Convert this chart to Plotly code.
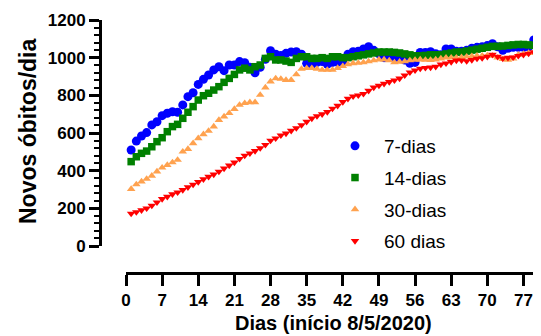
import plotly.graph_objects as go

days = list(range(1, 81))

dias7 = [510, 557, 584, 602, 643, 660, 692, 705, 713, 710,
         749, 793, 814, 858, 885, 908, 935, 952, 931, 961,
         961, 979, 973, 949, 920, 949, 991, 1037, 1018, 1011,
         1023, 1030, 1032, 1018, 970, 965, 975, 979, 965, 975,
         975, 978, 1018, 1032, 1034, 1046, 1058, 1039, 1021, 1000,
         1005, 1005, 996, 987, 970, 975, 1028, 1028, 1032, 1021,
         1016, 1046, 1046, 1034, 1034, 1039, 1050, 1055, 1058, 1064,
         1074, 1058, 1039, 1050, 1055, 1055, 1055, 1058, 1094, 1080]

dias14 = [448, 474, 492, 504, 527, 554, 575, 607, 634, 646,
          678, 710, 740, 775, 798, 811, 828, 846, 869, 890,
          911, 935, 944, 935, 952, 961, 996, 1005, 988, 988,
          982, 975, 996, 1005, 1005, 996, 996, 1000, 996, 1005,
          1005, 1000, 1000, 1005, 1010, 1015, 1020, 1025, 1030, 1030,
          1030, 1028, 1025, 1020, 1015, 1010, 1010, 1012, 1015, 1015,
          1015, 1020, 1025, 1030, 1030, 1035, 1040, 1045, 1050, 1055,
          1060, 1060, 1062, 1065, 1068, 1070, 1070, 1068, 1065, 1060]

dias30 = [302, 327, 342, 356, 373, 395, 416, 430, 444, 457,
          501, 515, 545, 572, 593, 611, 634, 669, 687, 705,
          727, 749, 758, 763, 763, 802, 841, 873, 890, 887,
          881, 881, 911, 940, 944, 944, 940, 935, 935, 935,
          945, 955, 965, 970, 972, 975, 980, 985, 990, 990,
          985, 975, 978, 980, 985, 988, 990, 988, 987, 990,
          995, 1000, 1000, 1000, 1002, 1005, 1008, 1010, 1010, 1012,
          1010, 1000, 992, 988, 995, 1015, 1020, 1025, 1025, 1025]

dias60 = [172, 180, 190, 200, 215, 232, 250, 262, 275, 285,
          298, 312, 326, 340, 355, 368, 380, 395, 412, 428,
          444, 463, 480, 492, 505, 520, 537, 560, 572, 588,
          598, 612, 626, 642, 660, 677, 690, 700, 712, 730,
          745, 765, 782, 795, 800, 808, 825, 842, 852, 862,
          871, 880, 890, 906, 922, 933, 942, 946, 948, 952,
          964, 970, 977, 985, 986, 982, 988, 995, 998, 1005,
          1016, 1005, 996, 1000, 1002, 1010, 1016, 1022, 1030, 1038]

x_ticks = [0, 7, 14, 21, 28, 35, 42, 49, 56, 63, 70, 77]
y_ticks = [0, 200, 400, 600, 800, 1000, 1200]

series = [
    ("7-dias", dias7, "#0000FF", "circle", 9),
    ("14-dias", dias14, "#008000", "square", 7.5),
    ("30-dias", dias30, "#FFA24F", "triangle-up", 7.5),
    ("60 dias", dias60, "#FF0000", "triangle-down", 7.5),
]

fig = go.Figure()
for name, vals, col, sym, sz in series:
    fig.add_trace(go.Scatter(
        x=days, y=vals, mode="markers", name=name, legendgroup=name,
        marker=dict(color=col, symbol=sym, size=sz, line=dict(width=0)),
    ))

OFF = 8  # page body margin
W, H = 541 - OFF, 336 - OFF
ml, mr = 100 - OFF, 0
mt = 20 - OFF
mb = H - (273 - OFF)
pw = W - ml - mr
ph = H - mt - mb
x_min, x_max = 0, 80.4
xdom0 = (126 - 100) / pw
ydom0 = (273 - 246) / ph


def px(rx):
    return (rx - OFF - ml) / pw


def py(ry):
    return 1 - (ry - OFF - mt) / ph


font_family = "Liberation Sans, Arial, sans-serif"

fig.update_layout(
    width=W, height=H,
    margin=dict(l=ml, r=mr, t=mt, b=mb, pad=0),
    paper_bgcolor="white", plot_bgcolor="white",
    font=dict(family=font_family, color="black"),
    xaxis=dict(
        domain=[xdom0, 1], range=[x_min, x_max],
        anchor="free", position=0,
        showline=True, linecolor="black", linewidth=3,
        ticks="outside", ticklen=11, tickwidth=3, tickcolor="black",
        tickvals=x_ticks, ticktext=[str(v) for v in x_ticks],
        tickfont=dict(size=17, family=font_family, weight="bold"),
        showgrid=False, zeroline=False,
    ),
    yaxis=dict(
        domain=[ydom0, 1], range=[0, 1200],
        anchor="free", position=0,
        showline=True, linecolor="black", linewidth=3,
        ticks="outside", ticklen=10, tickwidth=3, tickcolor="black",
        tickvals=y_ticks, ticktext=[str(v) for v in y_ticks],
        tickfont=dict(size=17, family=font_family, weight="bold"),
        minor=dict(dtick=40, ticks="outside", ticklen=5, tickwidth=2,
                   tickcolor="black", showgrid=False),
        showgrid=False, zeroline=False,
    ),
    legend=dict(
        x=px(326), xanchor="left",
        y=py(127), yanchor="top",
        font=dict(size=19, family=font_family),
        itemwidth=48, tracegroupgap=4, traceorder="grouped",
        bgcolor="rgba(0,0,0,0)", borderwidth=0,
    ),
    showlegend=True,
    annotations=[
        dict(text="<b>Novos óbitos/dia</b>", textangle=-90,
             xref="paper", yref="paper",
             x=px(28), y=py(131),
             xanchor="center", yanchor="middle", showarrow=False,
             font=dict(size=23, family=font_family)),
        dict(text="<b>Dias (início 8/5/2020)</b>",
             xref="paper", yref="paper",
             x=px(333), y=py(323),
             xanchor="center", yanchor="middle", showarrow=False,
             font=dict(size=20, family=font_family)),
    ],
)

fig.write_html("out.html")
